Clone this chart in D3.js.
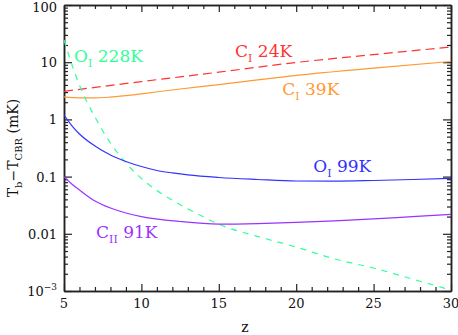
<!DOCTYPE html>
<html lang="en">
<head>
<meta charset="utf-8">
<title>Tb - TCBR vs z</title>
<script src="https://cdn.jsdelivr.net/npm/d3@7"></script>
<style>
    body { margin: 0; background: #fff; }
    svg text { font-family: "DejaVu Serif", "Liberation Serif", serif; fill: #111; }
    .axis path, .axis line { stroke: #222; }
</style>
</head>
<body>
<div id="chart"></div>
<script>
    // (z, Tb - TCBR in mK)
    var zCI24 = [5, 10, 15, 20, 25, 30];
    var tCI24 = [3.1, 4.58, 6.7, 9.9, 13.6, 18.4];

    var zCI39 = [5, 6, 7, 8, 9, 10, 12.5, 15, 17.5, 20, 25, 30];
    var tCI39 = [2.47, 2.38, 2.38, 2.46, 2.6, 2.8, 3.4, 4.06, 4.9, 5.87, 7.85, 10.3];

    var zOI228 = [5, 5.5, 6, 6.5, 7, 8, 9, 10, 11, 12, 13, 14, 15, 17.5, 20, 22.5, 25, 27.5, 30];
    var tOI228 = [24.4, 9.27, 3.95, 1.98, 1.10, 0.386, 0.173, 0.0927, 0.0571, 0.0386, 0.0273, 0.0198,
        0.0147, 0.0090, 0.00587, 0.00362, 0.00252, 0.00162, 0.00104];

    var zOI99 = [5, 5.5, 6, 7, 8, 9, 10, 11, 12, 13, 15, 17.5, 20, 22.5, 25, 27.5, 30];
    var tOI99 = [1.19, 0.781, 0.556, 0.343, 0.239, 0.184, 0.150, 0.128, 0.116, 0.107, 0.0964,
        0.089, 0.0837, 0.0831, 0.0855, 0.089, 0.0933];

    var zCII91 = [5, 5.5, 6, 7, 8, 9, 10, 12.5, 15, 17.5, 20, 22.5, 25, 27.5, 30];
    var tCII91 = [0.0995, 0.0743, 0.0583, 0.0374, 0.0282, 0.0231, 0.020, 0.0164, 0.0148, 0.0151,
        0.0158, 0.0168, 0.0182, 0.020, 0.0219];

    var xTicks = [5, 10, 15, 20, 25, 30];
    var yTicks = [100, 10, 1, 0.1, 0.01, 0.001];
    var yTickLabels = ["100", "10", "1", "0.1", "0.01", "10^-3"];

    var width = 458, height = 335;
    var margin = { top: 5, right: 7, bottom: 44, left: 64 };

    var svg = d3.select('#chart')
        .append('svg')
        .attr('width', width)
        .attr('height', height);

    var x = d3.scaleLinear().domain([5, 30]).range([margin.left, width - margin.right]);
    var y = d3.scaleLog().domain([0.001, 100]).range([height - margin.bottom, margin.top]);

    // minor tick values
    var xMinor = d3.range(5, 31, 1).filter(d => d % 5 !== 0);
    var yMinor = [];
    for (var e = -3; e < 2; e++) {
        for (var k = 2; k <= 9; k++) yMinor.push(k * Math.pow(10, e));
    }

    function addAxis(axisFn, scale, values, size, tx, ty) {
        svg.append('g')
            .attr('class', 'axis')
            .attr('transform', 'translate(' + tx + ',' + ty + ')')
            .call(axisFn(scale).tickValues(values).tickSizeInner(-size).tickSizeOuter(0).tickFormat(''))
            .call(g => g.selectAll('line').attr('stroke-width', 1.2))
            .call(g => g.select('.domain').attr('stroke-width', 1.5));
    }

    var bottom = height - margin.bottom, right = width - margin.right;
    addAxis(d3.axisBottom, x, xTicks, 7, 0, bottom);
    addAxis(d3.axisBottom, x, xMinor, 4, 0, bottom);
    addAxis(d3.axisTop, x, xTicks, 7, 0, margin.top);
    addAxis(d3.axisTop, x, xMinor, 4, 0, margin.top);
    addAxis(d3.axisLeft, y, yTicks, 8, margin.left, 0);
    addAxis(d3.axisLeft, y, yMinor, 4, margin.left, 0);
    addAxis(d3.axisRight, y, yTicks, 8, right, 0);
    addAxis(d3.axisRight, y, yMinor, 4, right, 0);

    // tick labels
    svg.selectAll('.xlab')
        .data(xTicks)
        .enter().append('text')
        .attr('x', d => x(d))
        .attr('y', bottom + 17)
        .attr('text-anchor', 'middle')
        .style('font-size', '13px')
        .text(d => d);

    yTicks.forEach((v, i) => {
        var t = svg.append('text')
            .attr('x', margin.left - 7)
            .attr('y', Math.max(y(v) + 5, 12))
            .attr('text-anchor', 'end')
            .style('font-size', '13px');
        var lab = yTickLabels[i];
        if (lab.indexOf('^') > 0) {
            var parts = lab.split('^');
            t.append('tspan').text(parts[0]);
            t.append('tspan').attr('dy', -6).style('font-size', '9px').text(parts[1].replace('-', '\u2212'));
        } else {
            t.text(lab);
        }
    });

    // axis titles
    svg.append('text')
        .attr('x', 245)
        .attr('y', height - 3)
        .attr('text-anchor', 'middle')
        .style('font-size', '14px')
        .text('z');

    var yt = svg.append('text')
        .attr('transform', 'translate(18,' + ((margin.top + bottom) / 2) + ') rotate(-90)')
        .attr('text-anchor', 'middle')
        .style('font-size', '14px');
    yt.append('tspan').text('T');
    yt.append('tspan').attr('dy', 4).style('font-size', '10px').text('b');
    yt.append('tspan').attr('dy', -4).text('\u2212T');
    yt.append('tspan').attr('dy', 4).style('font-size', '10px').text('CBR');
    yt.append('tspan').attr('dy', -4).text(' (mK)');

    // curves
    var line = d3.line()
        .x(d => x(d[0]))
        .y(d => y(d[1]))
        .curve(d3.curveMonotoneX);

    var series = [
        { z: zCI24, t: tCI24, color: '#ff3333', dash: '9,5' },
        { z: zCI39, t: tCI39, color: '#ff9933', dash: null },
        { z: zOI228, t: tOI228, color: '#33ff99', dash: '6,6' },
        { z: zOI99, t: tOI99, color: '#3333ff', dash: null },
        { z: zCII91, t: tCII91, color: '#9933ff', dash: null }
    ];

    svg.append('clipPath').attr('id', 'clip')
        .append('rect')
        .attr('x', margin.left).attr('y', margin.top)
        .attr('width', right - margin.left).attr('height', bottom - margin.top);

    series.forEach(s => {
        svg.append('path')
            .datum(d3.zip(s.z, s.t))
            .attr('d', line)
            .attr('clip-path', 'url(#clip)')
            .attr('fill', 'none')
            .attr('stroke', s.color)
            .attr('stroke-width', 1.2)
            .attr('stroke-dasharray', s.dash);
    });

    // curve labels: [main, subscript, rest], anchored in data coords
    var labels = [
        { m: 'O', sub: 'I', rest: ' 228K', z: 5.65, t: 10, color: '#33ff99' },
        { m: 'C', sub: 'I', rest: ' 24K', z: 16.05, t: 12.3, color: '#ff3333' },
        { m: 'C', sub: 'I', rest: ' 39K', z: 19.1, t: 2.67, color: '#ff9933' },
        { m: 'O', sub: 'I', rest: ' 99K', z: 21.1, t: 0.12, color: '#3333ff' },
        { m: 'C', sub: 'II', rest: ' 91K', z: 7.07, t: 0.00845, color: '#9933ff' }
    ];

    labels.forEach(l => {
        var t = svg.append('text')
            .attr('x', x(l.z))
            .attr('y', y(l.t))
            .style('font-size', '17px')
            .style('fill', l.color);
        t.append('tspan').text(l.m);
        t.append('tspan').attr('dy', 5).style('font-size', '11px').text(l.sub);
        t.append('tspan').attr('dy', -5).text(l.rest);
    });
</script>
</body>
</html>
